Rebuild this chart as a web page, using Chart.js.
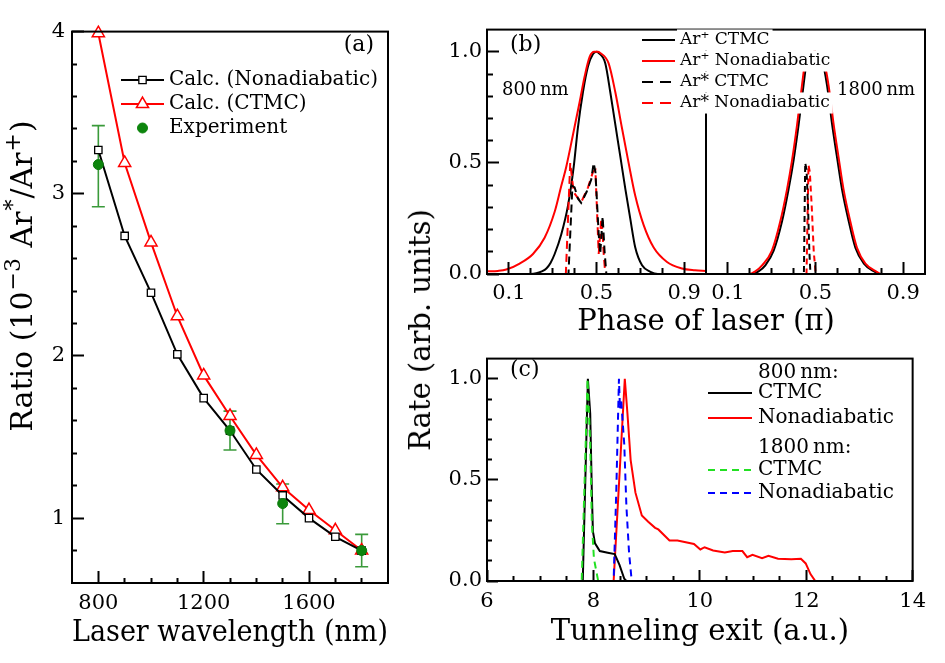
<!DOCTYPE html>
<html>
<head>
<meta charset="utf-8">
<script src="https://cdn.jsdelivr.net/npm/chart.js@4/dist/chart.umd.min.js"></script>
<style>
html,body{margin:0;padding:0;background:#fff;}
body{width:945px;height:663px;position:relative;overflow:hidden;}
canvas{position:absolute;}
#rateTitle{position:absolute;left:420px;top:330px;font-family:"DejaVu Serif";font-size:29px;white-space:nowrap;color:#000;transform:translate(-50%,-50%) rotate(-90deg);}
</style>
</head>
<body>
<canvas id="ca" width="400" height="663" style="left:0;top:0"></canvas>
<canvas id="cb" width="545" height="345" style="left:400px;top:0"></canvas>
<canvas id="cc" width="545" height="333" style="left:400px;top:330px"></canvas>
<div id="rateTitle">Rate (arb. units)</div>
<script>
// ---------------- Panel (a) data ----------------
const wavelengthsNm = [800, 900, 1000, 1100, 1200, 1300, 1400, 1500, 1600, 1700, 1800];
const ratioNonadiabatic = [3.27, 2.74, 2.39, 2.01, 1.74, 1.54, 1.30, 1.14, 1.00, 0.885, 0.80];
const ratioCTMC = [3.99, 3.19, 2.70, 2.245, 1.88, 1.63, 1.39, 1.19, 1.05, 0.925, 0.80];
const expWavelengthsNm = [800, 1300, 1500, 1800];
const expRatio = [3.18, 1.54, 1.09, 0.80];
const expErrLow = [2.92, 1.42, 0.965, 0.70];
const expErrHigh = [3.42, 1.66, 1.21, 0.90];
const ticksWavelength = [800, 1200, 1600];
const ticksRatio = [1, 2, 3, 4];
const legendLabelsA = ['Calc. (Nonadiabatic)', 'Calc. (CTMC)', 'Experiment'];
const yTitleA = 'Ratio (10^{\u22123} Ar^{*}/Ar^{+})';

// ---------------- Panel (b) data (phase in units of pi) ----------------
const phase800PlusCTMC = [0, 0.2, 0.225, 0.25, 0.271, 0.29, 0.309, 0.339, 0.37, 0.396, 0.415, 0.438, 0.461, 0.484, 0.5, 0.51, 0.54, 0.563, 0.586, 0.609, 0.632, 0.654, 0.677, 0.708, 0.746, 0.78, 1.0];
const rate800PlusCTMC = [0, 0, 0.003, 0.012, 0.025, 0.05, 0.09, 0.178, 0.309, 0.483, 0.658, 0.818, 0.934, 0.99, 1.0, 0.995, 0.949, 0.818, 0.672, 0.527, 0.381, 0.25, 0.119, 0.039, 0.01, 0, 0];
const phase800PlusNonad = [0, 0.05, 0.088, 0.149, 0.21, 0.263, 0.309, 0.339, 0.362, 0.393, 0.423, 0.446, 0.469, 0.49, 0.505, 0.517, 0.555, 0.586, 0.616, 0.647, 0.677, 0.715, 0.761, 0.822, 0.89, 0.95, 1.0];
const rate800PlusNonad = [0.012, 0.014, 0.02, 0.047, 0.09, 0.163, 0.28, 0.396, 0.483, 0.629, 0.774, 0.89, 0.978, 1.0, 1.0, 0.995, 0.949, 0.818, 0.658, 0.498, 0.352, 0.221, 0.119, 0.054, 0.025, 0.017, 0.014];
const phase800StarCTMC = [0, 0.372, 0.39, 0.40, 0.415, 0.43, 0.455, 0.476, 0.487, 0.495, 0.51, 0.517, 0.528, 0.537, 0.545, 1.0];
const rate800StarCTMC = [0, 0, 0.396, 0.39, 0.34, 0.32, 0.37, 0.425, 0.5, 0.46, 0.18, 0.09, 0.26, 0.1, 0, 0];
const phase800StarNonad = [0, 0.36, 0.368, 0.38, 0.396, 0.43, 0.461, 0.484, 0.495, 0.502, 0.51, 0.522, 0.528, 0.533, 0.54, 1.0];
const rate800StarNonad = [0, 0, 0.2, 0.5, 0.367, 0.323, 0.389, 0.46, 0.468, 0.294, 0.09, 0.25, 0.18, 0.09, 0, 0];
const phase1800PlusCTMC = [0, 0.21, 0.24, 0.271, 0.309, 0.347, 0.377, 0.40, 0.423, 0.445, 0.46, 0.482, 0.5, 0.515, 0.53, 0.553, 0.576, 0.598, 0.621, 0.652, 0.682, 0.721, 0.77, 0.79, 1.0];
const rate1800PlusCTMC = [0, 0, 0.012, 0.039, 0.105, 0.236, 0.381, 0.512, 0.672, 0.847, 0.955, 0.995, 1.0, 0.99, 0.964, 0.847, 0.672, 0.527, 0.381, 0.236, 0.119, 0.047, 0.01, 0, 0];
const phase1800PlusNonad = [0, 0.195, 0.225, 0.256, 0.301, 0.339, 0.37, 0.393, 0.416, 0.438, 0.453, 0.475, 0.5, 0.522, 0.537, 0.56, 0.583, 0.605, 0.628, 0.659, 0.689, 0.728, 0.78, 0.8, 1.0];
const rate1800PlusNonad = [0, 0, 0.012, 0.039, 0.105, 0.236, 0.381, 0.512, 0.672, 0.847, 0.955, 0.995, 1.0, 0.99, 0.964, 0.847, 0.672, 0.527, 0.381, 0.236, 0.119, 0.047, 0.01, 0, 0];
const phase1800StarCTMC = [0, 0.447, 0.453, 0.459, 0.466, 0.472, 0.477, 1.0];
const rate1800StarCTMC = [0, 0, 0.5, 0.47, 0.3, 0.1, 0, 0];
const phase1800StarNonad = [0, 0.459, 0.468, 0.474, 0.483, 0.492, 0.501, 1.0];
const rate1800StarNonad = [0, 0, 0.49, 0.46, 0.3, 0.1, 0, 0];
const ticksPhase = [0.1, 0.5, 0.9];
const ticksRate = [0, 0.5, 1.0];
const legendLabelsB = ['Ar\u207A CTMC', 'Ar\u207A Nonadiabatic', 'Ar* CTMC', 'Ar* Nonadiabatic'];

// ---------------- Panel (c) data ----------------
const exit800CTMC = [6, 7.80, 7.896, 7.94, 7.97, 7.99, 8.03, 8.12, 8.27, 8.40, 8.49, 8.58, 8.62, 14];
const rate800CTMC = [0, 0, 1.0, 0.827, 0.446, 0.247, 0.186, 0.148, 0.14, 0.133, 0.08, 0.011, 0, 0];
const exit800Nonad = [6, 8.38, 8.59, 8.64, 8.70, 8.79, 8.91, 9.03, 9.16, 9.22, 9.43, 9.58, 9.89, 10.01, 10.09, 10.25, 10.47, 10.62, 10.80, 10.89, 10.99, 11.17, 11.29, 11.47, 11.72, 11.90, 11.99, 12.08, 12.17, 14];
const rate800Nonad = [0, 0, 1.0, 0.827, 0.598, 0.437, 0.324, 0.293, 0.263, 0.255, 0.2, 0.2, 0.183, 0.156, 0.167, 0.151, 0.141, 0.148, 0.148, 0.118, 0.13, 0.113, 0.125, 0.11, 0.107, 0.11, 0.087, 0.034, 0, 0];
const exit1800CTMC = [6, 7.78, 7.89, 7.94, 7.97, 8.01, 8.09, 14];
const rate1800CTMC = [0, 0, 1.0, 0.675, 0.293, 0.11, 0, 0];
const exit1800Nonad = [6, 8.38, 8.43, 8.48, 8.50, 8.52, 8.58, 8.62, 8.67, 8.72, 14];
const rate1800Nonad = [0, 0, 0.446, 1.0, 0.85, 0.9, 0.675, 0.37, 0.14, 0, 0];
const ticksExit = [6, 8, 10, 12, 14];
const legendLabelsC = ['800\u2009nm:', 'CTMC', 'Nonadiabatic', '1800\u2009nm:', 'CTMC', 'Nonadiabatic'];

// ---------------- helpers ----------------
const FONT = '"DejaVu Serif"';
Chart.defaults.font.family = FONT;
Chart.defaults.color = '#000';
const pts = (xs, ys, dx = 0) => xs.map((x, i) => ({x: x + dx, y: ys[i]}));
const PHASE_SHIFT_1800 = 1;
const DECO = {};
const near = (v, arr) => arr.some(m => Math.abs(m - v) < 1e-6);
function minorValues(lo, hi, step, exclude) {
  const out = [];
  for (let i = Math.ceil(lo / step - 1e-6); i * step <= hi + 1e-6; i++) {
    const v = +(i * step).toFixed(6);
    if (v > lo + 1e-6 && v < hi - 1e-6 && !near(v, exclude)) out.push(v);
  }
  return out;
}

function richSegments(str) {
  const out = []; const re = /\^\{([^}]*)\}/g; let last = 0, m;
  while ((m = re.exec(str))) {
    if (m.index > last) out.push({t: str.slice(last, m.index), sup: false});
    out.push({t: m[1], sup: true}); last = re.lastIndex;
  }
  if (last < str.length) out.push({t: str.slice(last), sup: false});
  return out;
}
function drawRich(ctx, str, cx, cy, size, rot) {
  const segs = richSegments(str), supSize = Math.round(size * 0.72);
  ctx.save(); ctx.translate(cx, cy); ctx.rotate(rot || 0);
  ctx.textBaseline = 'alphabetic'; ctx.textAlign = 'left'; ctx.fillStyle = '#000';
  let w = 0;
  segs.forEach(s => { ctx.font = (s.sup ? supSize : size) + 'px ' + FONT; s.w = ctx.measureText(s.t).width + (s.sup ? 2 : 0); w += s.w; });
  let x = -w / 2; const base = size * 0.34;
  segs.forEach(s => { ctx.font = (s.sup ? supSize : size) + 'px ' + FONT; ctx.fillText(s.t, x + (s.sup ? 1 : 0), s.sup ? base - size * 0.42 : base); x += s.w; });
  ctx.restore();
}

const decoPlugin = {
  id: 'deco',
  beforeDatasetsDraw(chart) {
    const o = DECO[chart.canvas.id]; if (!o || !o.errorBars) return;
    const {ctx} = chart, sx = chart.scales.x, sy = chart.scales.y, e = o.errorBars;
    ctx.save();
    ctx.strokeStyle = e.color; ctx.lineWidth = e.width;
    e.xs.forEach((xv, i) => {
      const px = sx.getPixelForValue(xv), p1 = sy.getPixelForValue(e.lo[i]), p2 = sy.getPixelForValue(e.hi[i]);
      ctx.beginPath();
      ctx.moveTo(px, p1); ctx.lineTo(px, p2);
      ctx.moveTo(px - e.cap, p1); ctx.lineTo(px + e.cap, p1);
      ctx.moveTo(px - e.cap, p2); ctx.lineTo(px + e.cap, p2);
      ctx.stroke();
    });
    ctx.restore();
  },
  afterDatasetsDraw(chart) {
    const o = DECO[chart.canvas.id]; if (!o) return;
    const {ctx, chartArea: a} = chart, sx = chart.scales.x;
    ctx.save();
    ctx.strokeStyle = '#000';
    if (o.divider !== undefined) {
      const px = sx.getPixelForValue(o.divider);
      ctx.lineWidth = 2; ctx.beginPath(); ctx.moveTo(px, a.top); ctx.lineTo(px, a.bottom); ctx.stroke();
    }
    ctx.lineWidth = 2;
    ctx.strokeRect(a.left, a.top, a.right - a.left, a.bottom - a.top);
    ctx.textBaseline = 'middle';
    for (const it of (o.legend || [])) {
      ctx.font = it.size + 'px ' + FONT;
      if (it.bg) {
        const w = ctx.measureText(it.text).width;
        ctx.fillStyle = '#fff';
        ctx.fillRect(it.tx - 3, it.y - it.size * 0.62, w + 6, it.size * 1.24);
      }
      if (it.color) {
        ctx.strokeStyle = it.color; ctx.lineWidth = 2; ctx.setLineDash(it.dash || []);
        if (it.line !== false) { ctx.beginPath(); ctx.moveTo(it.x0, it.y); ctx.lineTo(it.x1, it.y); ctx.stroke(); }
        ctx.setLineDash([]);
        if (it.marker) {
          ctx.fillStyle = it.fill; ctx.strokeStyle = it.color; ctx.lineWidth = it.bw;
          Chart.helpers.drawPoint(ctx, {pointStyle: it.marker, radius: it.r, borderWidth: it.bw, rotation: 0}, (it.x0 + it.x1) / 2, it.y);
        }
      }
      ctx.fillStyle = '#000'; ctx.textAlign = 'left'; ctx.textBaseline = 'middle';
      ctx.font = it.size + 'px ' + FONT;
      ctx.fillText(it.text, it.tx, it.y);
    }
    for (const tx of (o.texts || [])) {
      ctx.font = tx.size + 'px ' + FONT;
      ctx.textAlign = tx.align || 'left'; ctx.textBaseline = 'middle';
      const w = ctx.measureText(tx.text).width;
      if (tx.bg) {
        const x0 = tx.align === 'right' ? tx.x - w : tx.x;
        ctx.fillStyle = '#fff';
        ctx.fillRect(x0 - 3, tx.y - tx.size * 0.62, w + 6, tx.size * 1.24);
      }
      ctx.fillStyle = '#000';
      ctx.fillText(tx.text, tx.x, tx.y);
    }
    if (o.yTitle) drawRich(ctx, o.yTitle.text, o.yTitle.x, o.yTitle.y, o.yTitle.size, -Math.PI / 2);
    ctx.restore();
  }
};
Chart.register(decoPlugin);

// main (labelled) axis: major tick marks drawn by Chart.js itself, pointing inward
function axis(pos, min, max, tickVals, fmt, fitKey, fitVal, tickPad, majorLen, title) {
  const s = {
    type: 'linear', position: pos, min, max, weight: 0,
    grid: {display: true, drawOnChartArea: false, drawTicks: true, tickLength: -majorLen, tickWidth: 2, tickColor: '#000', z: 1},
    border: {display: false},
    afterBuildTicks: sc => { sc.ticks = tickVals.map(v => ({value: v})); },
    afterFit: sc => { sc[fitKey] = fitVal; },
    ticks: {autoSkip: false, maxRotation: 0, padding: tickPad + majorLen, font: {size: 21, family: FONT}, color: '#000', callback: fmt}
  };
  if (title) s.title = title;
  return s;
}
// companion zero-size axis carrying the minor tick marks
function minorAxis(pos, min, max, vals, fitKey, minorLen) {
  return {
    type: 'linear', position: pos, min, max, weight: -1, display: true,
    grid: {display: true, drawOnChartArea: false, drawTicks: true, tickLength: -minorLen, tickWidth: 2, tickColor: '#000', z: 1},
    border: {display: false},
    afterBuildTicks: sc => { sc.ticks = vals.map(v => ({value: v})); },
    afterFit: sc => { sc[fitKey] = 0; },
    ticks: {display: false, autoSkip: false},
    title: {display: false}
  };
}
const common = (padding) => ({
  responsive: false, animation: false, devicePixelRatio: 1,
  layout: {padding},
  plugins: {legend: {display: false}, tooltip: {enabled: false}}
});
const lineDs = (label, data, color, dash, smooth) => ({label, data, showLine: true, borderColor: color, borderWidth: 2, borderDash: dash || [], pointRadius: 0, cubicInterpolationMode: smooth ? 'monotone' : 'default', tension: 0});

// ---------------- Chart (a) ----------------
DECO.ca = {
  errorBars: {xs: expWavelengthsNm, lo: expErrLow, hi: expErrHigh, color: '#3a9a3a', width: 1.6, cap: 6.5},
  legend: [
    {text: legendLabelsA[0], color: '#000', x0: 121, x1: 164, tx: 169, y: 80, size: 20, marker: 'rect', r: 5.2, bw: 1.3, fill: '#fff'},
    {text: legendLabelsA[1], color: '#ff0000', x0: 121, x1: 164, tx: 169, y: 104, size: 20, marker: 'triangle', r: 7, bw: 1.5, fill: '#fff'},
    {text: legendLabelsA[2], color: '#0d850d', line: false, x0: 121, x1: 164, tx: 169, y: 128, size: 20, marker: 'circle', r: 5, bw: 1, fill: '#0d850d'}
  ],
  texts: [{text: '(a)', x: 374, y: 45, size: 22, align: 'right'}],
  yTitle: {text: yTitleA, x: 22, y: 276, size: 30}
};
new Chart(document.getElementById('ca'), {
  type: 'scatter',
  data: {datasets: [
    {label: legendLabelsA[2], data: pts(expWavelengthsNm, expRatio), showLine: false, pointStyle: 'circle', pointRadius: 5, backgroundColor: '#0d850d', borderColor: '#0b7a0b', borderWidth: 1, clip: false},
    {label: legendLabelsA[0], data: pts(wavelengthsNm, ratioNonadiabatic), showLine: true, borderColor: '#000', borderWidth: 2, pointStyle: 'rect', pointRadius: 5.2, pointBackgroundColor: '#fff', pointBorderColor: '#000', pointBorderWidth: 1.3, clip: false},
    {label: legendLabelsA[1], data: pts(wavelengthsNm, ratioCTMC), showLine: true, borderColor: '#ff0000', borderWidth: 2, pointStyle: 'triangle', pointRadius: 7, pointBackgroundColor: '#fff', pointBorderColor: '#ff0000', pointBorderWidth: 1.5, clip: false}
  ]},
  options: Object.assign(common({top: 22, right: 12, left: 0, bottom: 0}), {
    scales: {
      xm: minorAxis('bottom', 700, 1900, minorValues(700, 1900, 100, ticksWavelength), 'height', 5),
      ym: minorAxis('left', 0.6, 4.0, minorValues(0.6, 4.0, 0.2, ticksRatio), 'width', 5),
      x: axis('bottom', 700, 1900, ticksWavelength, v => String(v), 'height', 80, 8, 12,
        {display: true, text: 'Laser wavelength (nm)', font: {size: 30, family: FONT}, color: '#000', padding: {top: 0, bottom: 12}}),
      y: axis('left', 0.6, 4.0, ticksRatio, v => String(v), 'width', 72, 7, 12, null)
    }
  })
});

// ---------------- Chart (b) ----------------
const phaseTickVals = ticksPhase.concat(ticksPhase.map(v => v + PHASE_SHIFT_1800));
DECO.cb = {
  divider: PHASE_SHIFT_1800,
  texts: [
    {text: '(b)', x: 110, y: 45, size: 22},
    {text: '800\u2009nm', x: 102, y: 90, size: 18},
    {text: '1800\u2009nm', x: 437, y: 90, size: 18, bg: true}
  ],
  legend: [
    {text: legendLabelsB[0], color: '#000', x0: 242, x1: 275, tx: 280, y: 40, size: 17, bg: true},
    {text: legendLabelsB[1], color: '#ff0000', x0: 242, x1: 275, tx: 280, y: 61, size: 17, bg: true},
    {text: legendLabelsB[2], color: '#000', dash: [11, 7], x0: 242, x1: 275, tx: 280, y: 82, size: 17, bg: true},
    {text: legendLabelsB[3], color: '#ff0000', dash: [11, 7], x0: 242, x1: 275, tx: 280, y: 103, size: 17, bg: true}
  ]
};
new Chart(document.getElementById('cb'), {
  type: 'scatter',
  data: {datasets: [
    lineDs(legendLabelsB[2], pts(phase800StarCTMC, rate800StarCTMC), '#000', [8, 5]),
    lineDs(legendLabelsB[3], pts(phase800StarNonad, rate800StarNonad), '#ff0000', [8, 5]),
    lineDs(legendLabelsB[2], pts(phase1800StarCTMC, rate1800StarCTMC, PHASE_SHIFT_1800), '#000', [6, 4]),
    lineDs(legendLabelsB[3], pts(phase1800StarNonad, rate1800StarNonad, PHASE_SHIFT_1800), '#ff0000', [6, 4]),
    lineDs(legendLabelsB[1], pts(phase800PlusNonad, rate800PlusNonad), '#ff0000', null, true),
    lineDs(legendLabelsB[0], pts(phase800PlusCTMC, rate800PlusCTMC), '#000', null, true),
    lineDs(legendLabelsB[1], pts(phase1800PlusNonad, rate1800PlusNonad, PHASE_SHIFT_1800), '#ff0000', null, true),
    lineDs(legendLabelsB[0], pts(phase1800PlusCTMC, rate1800PlusCTMC, PHASE_SHIFT_1800), '#000', null, true)
  ]},
  options: Object.assign(common({top: 22, right: 20, left: 0, bottom: 0}), {
    scales: {
      xm: minorAxis('bottom', 0, 2, minorValues(0, 2, 0.1, phaseTickVals.concat([PHASE_SHIFT_1800])), 'height', 6),
      ym: minorAxis('left', 0, 1.1, minorValues(0, 1.1, 0.1, ticksRate), 'width', 6),
      x: axis('bottom', 0, 2, phaseTickVals, v => (v > PHASE_SHIFT_1800 ? v - PHASE_SHIFT_1800 : v).toFixed(1), 'height', 71, 7, 12,
        {display: true, text: 'Phase of laser (\u03C0)', font: {size: 29, family: FONT}, color: '#000', padding: {top: 0, bottom: 5}}),
      y: axis('left', 0, 1.1, ticksRate, v => v.toFixed(1), 'width', 87, 5, 12, null)
    }
  })
});

// ---------------- Chart (c) ----------------
DECO.cc = {
  texts: [{text: '(c)', x: 110, y: 40, size: 22}],
  legend: [
    {text: legendLabelsC[0], tx: 358, y: 43, size: 20},
    {text: legendLabelsC[1], color: '#000', x0: 308, x1: 352, tx: 358, y: 63, size: 20},
    {text: legendLabelsC[2], color: '#ff0000', x0: 308, x1: 352, tx: 358, y: 88, size: 20},
    {text: legendLabelsC[3], tx: 358, y: 118, size: 20},
    {text: legendLabelsC[4], color: '#22e022', dash: [7, 5], x0: 308, x1: 352, tx: 358, y: 140, size: 20},
    {text: legendLabelsC[5], color: '#0000ff', dash: [7, 5], x0: 308, x1: 352, tx: 358, y: 163, size: 20}
  ]
};
new Chart(document.getElementById('cc'), {
  type: 'scatter',
  data: {datasets: [
    lineDs(legendLabelsC[4], pts(exit1800CTMC, rate1800CTMC), '#22e022', [7, 5]),
    lineDs(legendLabelsC[5], pts(exit1800Nonad, rate1800Nonad), '#0000ff', [7, 5]),
    lineDs(legendLabelsC[1], pts(exit800CTMC, rate800CTMC), '#000'),
    lineDs(legendLabelsC[2], pts(exit800Nonad, rate800Nonad), '#ff0000')
  ]},
  options: Object.assign(common({top: 10, right: 20, left: 0, bottom: 0}), {
    scales: {
      xm: minorAxis('bottom', 6, 14, minorValues(6, 14, 0.5, ticksExit), 'height', 5),
      ym: minorAxis('left', 0, 1.1, minorValues(0, 1.1, 0.1, ticksRate), 'width', 5),
      x: axis('bottom', 6, 14, ticksExit, v => String(v), 'height', 82, 8, 11,
        {display: true, text: 'Tunneling exit (a.u.)', font: {size: 29, family: FONT}, color: '#000', padding: {top: 0, bottom: 13}}),
      y: axis('left', 0, 1.1, ticksRate, v => v.toFixed(1), 'width', 87, 5, 11, null)
    }
  })
});
</script>
</body>
</html>
